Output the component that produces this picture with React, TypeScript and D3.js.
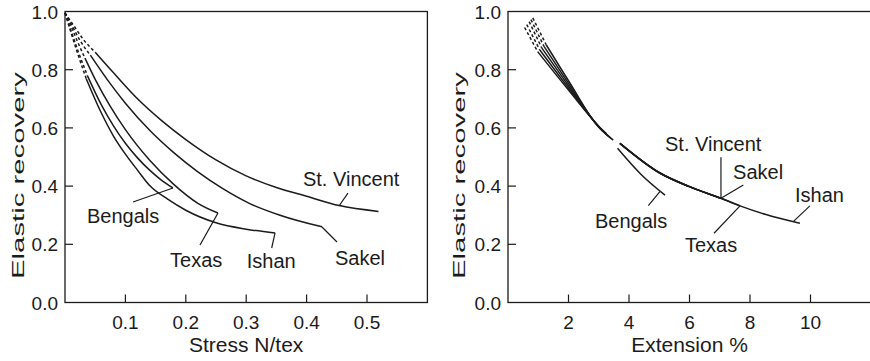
import React from "react";
import * as d3 from "d3";

type Pt = [number, number];

// ---- left panel: elastic recovery vs stress (N/tex) ----
const stVincentStressDash: Pt[] = [[0, 0.995], [0.015, 0.95], [0.03, 0.905], [0.05, 0.86]];
const stVincentStress: Pt[] = [[0.05, 0.86], [0.08, 0.79], [0.12, 0.7], [0.16, 0.625], [0.2, 0.56], [0.25, 0.49], [0.3, 0.435], [0.35, 0.395], [0.4, 0.365], [0.454, 0.333], [0.519, 0.313]];
const sakelStressDash: Pt[] = [[0, 0.995], [0.012, 0.95], [0.025, 0.9], [0.042, 0.85]];
const sakelStress: Pt[] = [[0.042, 0.85], [0.07, 0.766], [0.1, 0.685], [0.141, 0.59], [0.18, 0.515], [0.22, 0.449], [0.26, 0.393], [0.306, 0.34], [0.356, 0.3], [0.4255, 0.26]];
const texasStressDash: Pt[] = [[0, 0.995], [0.01, 0.95], [0.02, 0.9], [0.033, 0.84]];
const texasStress: Pt[] = [[0.033, 0.84], [0.05, 0.767], [0.075, 0.674], [0.1, 0.594], [0.141, 0.487], [0.18, 0.406], [0.22, 0.341], [0.2533, 0.3076]];
const bengalsStressDash: Pt[] = [[0, 0.995], [0.01, 0.934], [0.022, 0.862], [0.037, 0.78]];
const bengalsStress: Pt[] = [[0.037, 0.78], [0.06, 0.68], [0.08, 0.608], [0.1, 0.547], [0.12, 0.497], [0.141, 0.453], [0.16, 0.42], [0.1788, 0.3935]];
const ishanStressDash: Pt[] = [[0, 0.995], [0.01, 0.927], [0.022, 0.849], [0.035, 0.77]];
const ishanStress: Pt[] = [[0.035, 0.77], [0.06, 0.652], [0.08, 0.573], [0.1, 0.51], [0.12, 0.455], [0.141, 0.4], [0.17, 0.355], [0.2, 0.317], [0.25, 0.274], [0.3, 0.252], [0.348, 0.239]];

// ---- right panel: elastic recovery vs extension % ----
const stVincentExtDash: Pt[] = [[0.82, 0.978], [1.26, 0.886]];
const stVincentExtUpper: Pt[] = [[1.26, 0.886], [2.0, 0.762], [3.0, 0.602], [3.48, 0.558]];
const stVincentExtLower: Pt[] = [[3.7, 0.547], [5.02, 0.445], [6.0, 0.398], [7.04, 0.358]];
const sakelExtDash: Pt[] = [[0.76, 0.972], [1.19, 0.88]];
const sakelExtUpper: Pt[] = [[1.19, 0.88], [2.0, 0.753], [3.0, 0.603], [3.43, 0.562]];
const sakelExtLower: Pt[] = [[3.7, 0.547], [5.02, 0.445], [6.0, 0.398], [7.04, 0.358]];
const texasExtDash: Pt[] = [[0.7, 0.965], [1.12, 0.874]];
const texasExtUpper: Pt[] = [[1.12, 0.874], [2.0, 0.745], [3.0, 0.604], [3.38, 0.566]];
const texasExtLower: Pt[] = [[3.7, 0.547], [5.02, 0.445], [6.0, 0.398], [7.04, 0.358], [7.67, 0.332]];
const ishanExtDash: Pt[] = [[0.62, 0.955], [1.05, 0.868]];
const ishanExtUpper: Pt[] = [[1.05, 0.868], [2.0, 0.737], [3.0, 0.605], [3.32, 0.572]];
const ishanExtLower: Pt[] = [[3.7, 0.547], [5.02, 0.445], [6.0, 0.398], [7.04, 0.358], [7.67, 0.332], [8.5, 0.303], [9.65, 0.272]];
const bengalsExtDash: Pt[] = [[0.55, 0.945], [0.98, 0.862]];
const bengalsExtUpper: Pt[] = [[0.98, 0.862], [2.0, 0.73], [3.0, 0.606], [3.26, 0.58]];
const bengalsExtLower: Pt[] = [[3.62, 0.53], [4.4, 0.44], [5.19, 0.369]];

const yTicks = [0, 0.2, 0.4, 0.6, 0.8, 1.0];
const stressTicks = [0.1, 0.2, 0.3, 0.4, 0.5];
const extensionTicks = [2, 4, 6, 8, 10];

// labels: name, text anchor (start x, baseline y) and leader from curve to label, in data units
const stressLabels = [
  { name: "St. Vincent", at: [0.394, 0.4], leader: [[0.4536, 0.3316], [0.4685, 0.376]] },
  { name: "Sakel", at: [0.447, 0.129], leader: [[0.4255, 0.2595], [0.4503, 0.2079]] },
  { name: "Ishan", at: [0.301, 0.119], leader: [[0.3477, 0.2388], [0.3422, 0.1873]] },
  { name: "Texas", at: [0.174, 0.122], leader: [[0.2533, 0.3076], [0.2235, 0.1976]] },
  { name: "Bengals", at: [0.0364, 0.273], leader: [[0.1788, 0.3935], [0.1126, 0.3454]] },
];
const extensionLabels = [
  { name: "St. Vincent", at: [5.19, 0.522], leader: [[7.04, 0.499], [7.04, 0.358]] },
  { name: "Sakel", at: [7.44, 0.423], leader: [[7.04, 0.358], [7.78, 0.404]] },
  { name: "Ishan", at: [9.49, 0.346], leader: [[9.43, 0.278], [9.98, 0.332]] },
  { name: "Texas", at: [5.85, 0.1725], leader: [[7.67, 0.332], [6.81, 0.238]] },
  { name: "Bengals", at: [2.876, 0.257], leader: [[5.02, 0.381], [4.64, 0.333]] },
];

const FONT = "'Liberation Sans', Arial, Helvetica, sans-serif";
const INK = "#1b1b1b";
const TOP = 11.5, BOTTOM = 302.5;

type PanelProps = {
  left: number; right: number; xMax: number; xTicks: number[]; xFmt: (v: number) => string;
  xTitle: string; yTitleX: number; dashed: Pt[][]; solid: Pt[][];
  labels: { name: string; at: number[]; leader: number[][] }[];
};

function Panel({ left, right, xMax, xTicks, xFmt, xTitle, yTitleX, dashed, solid, labels }: PanelProps) {
  const x = d3.scaleLinear().domain([0, xMax]).range([left, right]);
  const y = d3.scaleLinear().domain([0, 1]).range([BOTTOM, TOP]);
  const line = d3.line<Pt>().x(d => x(d[0])).y(d => y(d[1])).curve(d3.curveMonotoneX);
  const fmtY = d3.format(".1f");
  return (
    <g>
      <rect x={left} y={TOP} width={right - left} height={BOTTOM - TOP} fill="none" stroke={INK} strokeWidth={1.3} />
      {yTicks.filter(t => t > 0 && t < 1).map(t => (
        <line key={"yt" + t} x1={left} x2={left + 8} y1={y(t)} y2={y(t)} stroke={INK} strokeWidth={1.2} />
      ))}
      {yTicks.map(t => (
        <text key={"yl" + t} x={left - 7} y={y(t) + 7} textAnchor="end" fontSize={19} fill={INK}>{fmtY(t)}</text>
      ))}
      {xTicks.map(t => (
        <g key={"xt" + t}>
          <line x1={x(t)} x2={x(t)} y1={BOTTOM} y2={BOTTOM - 8} stroke={INK} strokeWidth={1.2} />
          <text x={x(t)} y={329} textAnchor="middle" fontSize={19} fill={INK}>{xFmt(t)}</text>
        </g>
      ))}
      <text x={(left + right) / 2} y={351.5} textAnchor="middle" fontSize={21} fill={INK}>{xTitle}</text>
      <text transform={`translate(${yTitleX},175.5) rotate(-90)`} textAnchor="middle" fontSize={17}
        textLength={207} lengthAdjust="spacingAndGlyphs" fill={INK}>Elastic recovery</text>
      {dashed.map((d, i) => (
        <path key={"d" + i} d={line(d) || ""} fill="none" stroke={INK} strokeWidth={1.5} strokeDasharray="3,2.5" />
      ))}
      {solid.map((d, i) => (
        <path key={"s" + i} d={line(d) || ""} fill="none" stroke={INK} strokeWidth={1.5} />
      ))}
      {labels.map(l => (
        <g key={l.name}>
          <line x1={x(l.leader[0][0])} y1={y(l.leader[0][1])} x2={x(l.leader[1][0])} y2={y(l.leader[1][1])} stroke={INK} strokeWidth={1.2} />
          <text x={x(l.at[0])} y={y(l.at[1])} fontSize={20} fill={INK}>{l.name}</text>
        </g>
      ))}
    </g>
  );
}

export default function App() {
  return (
    <svg width={870} height={361} style={{ position: "absolute", left: 0, top: 0, background: "#fff" }} fontFamily={FONT}>
      <Panel left={65} right={427.4} xMax={0.6} xTicks={stressTicks} xFmt={d3.format(".1f")}
        xTitle="Stress N/tex" yTitleX={24}
        dashed={[stVincentStressDash, sakelStressDash, texasStressDash, bengalsStressDash, ishanStressDash]}
        solid={[stVincentStress, sakelStress, texasStress, bengalsStress, ishanStress]}
        labels={stressLabels} />
      <Panel left={508} right={871} xMax={12} xTicks={extensionTicks} xFmt={d3.format("d")}
        xTitle="Extension %" yTitleX={465}
        dashed={[stVincentExtDash, sakelExtDash, texasExtDash, ishanExtDash, bengalsExtDash]}
        solid={[stVincentExtUpper, sakelExtUpper, texasExtUpper, ishanExtUpper, bengalsExtUpper,
          stVincentExtLower, sakelExtLower, texasExtLower, ishanExtLower, bengalsExtLower]}
        labels={extensionLabels} />
    </svg>
  );
}
